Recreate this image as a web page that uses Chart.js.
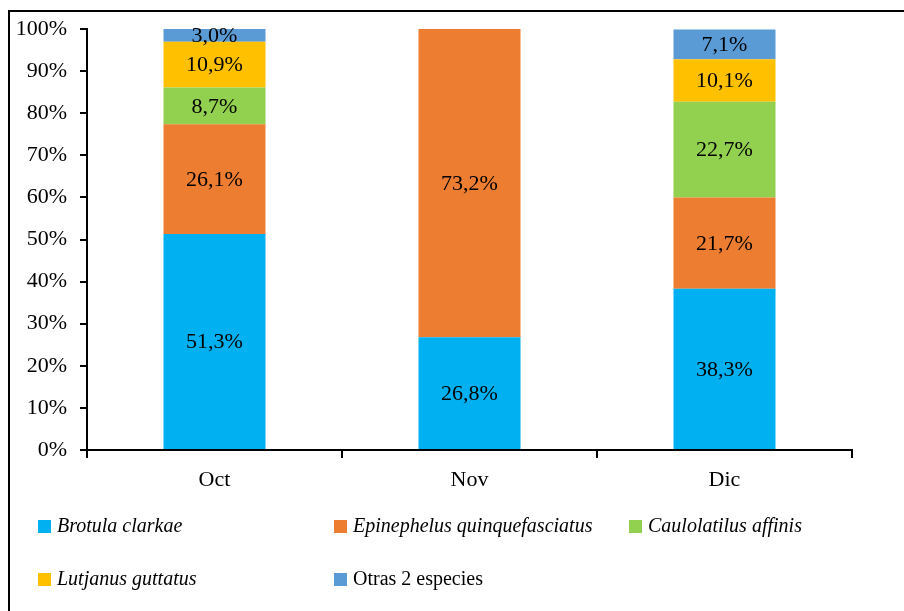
<!DOCTYPE html>
<html>
<head>
<meta charset="utf-8">
<script src="https://cdn.jsdelivr.net/npm/chart.js@4/dist/chart.umd.min.js"></script>
<style>
    html, body { margin: 0; padding: 0; background: #fff; }
    #wrap { position: relative; width: 904px; height: 611px; overflow: hidden; }
    #frame { position: absolute; left: 8px; top: 10px; width: 920px; height: 620px; border: 2px solid #000; box-sizing: border-box; }
    #chart { position: absolute; left: 0; top: 0; }
    .lg { position: absolute; font-family: "Liberation Serif", "DejaVu Serif", serif; font-size: 20px; color: #000; white-space: nowrap; line-height: 20px; }
    .lg span.box { display: inline-block; width: 13px; height: 13px; margin-right: 6px; vertical-align: -1px; }
</style>
</head>
<body>
<div id="wrap">
    <div id="frame"></div>
    <canvas id="chart" width="904" height="611"></canvas>
</div>
<script>
var months = ['Oct', 'Nov', 'Dic'];
var speciesNames = ['Brotula clarkae', 'Epinephelus quinquefasciatus', 'Caulolatilus affinis', 'Lutjanus guttatus', 'Otras 2 especies'];
var brotula = [51.3, 26.8, 38.3];
var epinephelus = [26.1, 73.2, 21.7];
var caulolatilus = [8.7, 0, 22.7];
var lutjanus = [10.9, 0, 10.1];
var otras = [3.0, 0, 7.1];
var yTicks = [0, 10, 20, 30, 40, 50, 60, 70, 80, 90, 100];

var colors = ['#00B0F0', '#ED7D31', '#92D050', '#FFC000', '#5B9BD5'];
var italicLabel = [true, true, true, true, false];
var legendPos = [[38, 515], [334, 515], [629, 515], [38, 568], [334, 568]];
var FONT = '"Liberation Serif", "DejaVu Serif", serif';

//draw value labels in middle of each segment
var valueLabels = {
    id: 'valueLabels',
    afterDatasetsDraw: function (chart) {
        var ctx = chart.ctx;
        ctx.save();
        ctx.font = '22px ' + FONT;
        ctx.fillStyle = '#000';
        ctx.textAlign = 'center';
        ctx.textBaseline = 'middle';
        chart.data.datasets.forEach(function (ds, i) {
            var meta = chart.getDatasetMeta(i);
            meta.data.forEach(function (bar, j) {
                var v = ds.data[j];
                if (!v) return;
                var y = (bar.y + bar.base) / 2;
                ctx.fillText(v.toFixed(1).replace('.', ',') + '%', bar.x, y + 1);
            });
        });
        ctx.restore();
    }
};

var seriesData = [brotula, epinephelus, caulolatilus, lutjanus, otras];
var datasets = speciesNames.map(function (name, i) {
    return {
        label: name,
        data: seriesData[i],
        backgroundColor: colors[i],
        borderWidth: 0,
        categoryPercentage: 1,
        barPercentage: 0.4
    };
});

var chart = new Chart(document.getElementById('chart'), {
    type: 'bar',
    data: { labels: months, datasets: datasets },
    options: {
        responsive: false,
        animation: false,
        layout: { padding: { top: 29, right: 52, left: 0, bottom: 0 } },
        plugins: {
            legend: { display: false },
            tooltip: { enabled: false }
        },
        scales: {
            x: {
                stacked: true,
                afterFit: function (scale) { scale.height = 611 - 450; },
                grid: { display: true, drawOnChartArea: false, drawTicks: true, tickLength: 8, color: '#000', lineWidth: 2, offset: true },
                border: { display: true, color: '#000', width: 2 },
                ticks: { color: '#000', font: { family: FONT, size: 22 }, padding: 9 }
            },
            y: {
                stacked: true,
                min: 0,
                max: 100,
                afterFit: function (scale) { scale.width = 87; },
                afterBuildTicks: function (scale) {
                    scale.ticks = yTicks.map(function (v) { return { value: v }; });
                },
                grid: { display: true, drawOnChartArea: false, drawTicks: true, tickLength: 7, color: '#000', lineWidth: 2 },
                border: { display: true, color: '#000', width: 2 },
                ticks: {
                    color: '#000',
                    font: { family: FONT, size: 22 },
                    padding: 13,
                    callback: function (v) { return v + '%'; }
                }
            }
        }
    },
    plugins: [valueLabels]
});

//html legend
var wrap = document.getElementById('wrap');
chart.data.datasets.forEach(function (ds, i) {
    var d = document.createElement('div');
    d.className = 'lg';
    d.style.left = legendPos[i][0] + 'px';
    d.style.top = legendPos[i][1] + 'px';
    d.style.fontStyle = italicLabel[i] ? 'italic' : 'normal';
    d.innerHTML = '<span class="box" style="background:' + ds.backgroundColor + '"></span>' + ds.label;
    wrap.appendChild(d);
});
</script>
</body>
</html>
